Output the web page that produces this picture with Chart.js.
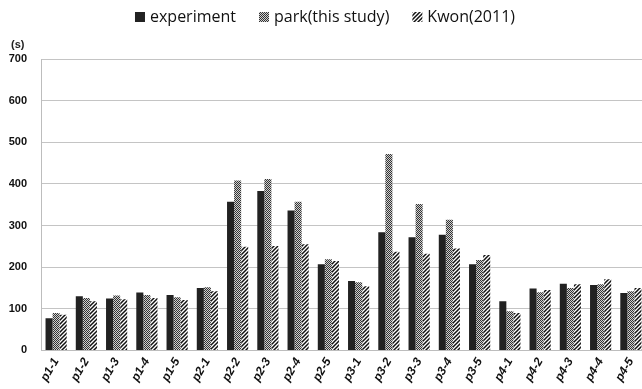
<!DOCTYPE html>
<html>
<head>
<meta charset="utf-8">
<script src="https://cdn.jsdelivr.net/npm/chart.js@4/dist/chart.umd.min.js"></script>
<style>
  html, body { margin: 0; padding: 0; background: #fff; overflow: hidden; }
  #wrap { width: 646px; height: 389px; position: relative; }
</style>
</head>
<body>
<div id="wrap"><canvas id="chart"></canvas></div>
<script>
// Travel time per section (seconds)
const categories = ['p1-1','p1-2','p1-3','p1-4','p1-5','p2-1','p2-2','p2-3','p2-4','p2-5',
                    'p3-1','p3-2','p3-3','p3-4','p3-5','p4-1','p4-2','p4-3','p4-4','p4-5'];
const experiment = [77,130,125,139,133,150,357,383,336,207,167,284,272,278,207,118,149,160,157,138];
const park       = [90,126,132,133,128,152,408,412,357,219,164,472,352,314,217,94,140,150,159,142];
const kwon       = [86,118,123,126,121,142,249,251,255,215,154,237,232,245,229,90,145,159,171,150];
const yTicks     = [0,100,200,300,400,500,600,700];
const seriesNames = ['experiment', 'park(this study)', 'Kwon(2011)'];

// Fine checkerboard fill
function checkerPattern() {
  const c = document.createElement('canvas');
  c.width = 2; c.height = 2;
  const g = c.getContext('2d');
  g.fillStyle = '#d0d0d0'; g.fillRect(0, 0, 2, 2);
  g.fillStyle = '#333333'; g.fillRect(0, 0, 1, 1); g.fillRect(1, 1, 1, 1);
  return g.createPattern(c, 'repeat');
}
// Diagonal hatch fill
function hatchPattern() {
  const c = document.createElement('canvas');
  c.width = 4; c.height = 4;
  const g = c.getContext('2d');
  g.fillStyle = '#ffffff'; g.fillRect(0, 0, 4, 4);
  g.strokeStyle = '#111111'; g.lineWidth = 1.5;
  g.beginPath();
  g.moveTo(-1, 5); g.lineTo(5, -1);
  g.moveTo(-1, 1); g.lineTo(1, -1);
  g.moveTo(3, 5); g.lineTo(5, 3);
  g.stroke();
  return g.createPattern(c, 'repeat');
}

// Legend row across the top, centred on the page
const topLegend = {
  id: 'topLegend',
  afterDraw(chart) {
    const ctx = chart.ctx;
    const box = 10, gapText = 5, gapItem = 23, yMid = 17, centre = 325;
    ctx.save();
    ctx.font = '16px "Open Sans", sans-serif';
    ctx.textBaseline = 'middle';
    ctx.textAlign = 'left';
    const widths = chart.data.datasets.map(d => box + gapText + ctx.measureText(d.label).width);
    const total = widths.reduce((a, b) => a + b, 0) + gapItem * (widths.length - 1);
    let x = centre - total / 2;
    chart.data.datasets.forEach((d, i) => {
      ctx.fillStyle = d.backgroundColor;
      ctx.fillRect(x, yMid - box / 2, box, box);
      ctx.fillStyle = '#111';
      ctx.fillText(d.label, x + box + gapText, yMid);
      x += widths[i] + gapItem;
    });
    ctx.restore();
  }
};

// Unit label above the value axis
const unitLabel = {
  id: 'unitLabel',
  afterDraw(chart) {
    const ctx = chart.ctx;
    const y = chart.scales.y;
    ctx.save();
    ctx.font = 'bold 11px "Liberation Sans", Arial, sans-serif';
    ctx.fillStyle = '#222';
    ctx.textAlign = 'left';
    ctx.textBaseline = 'middle';
    ctx.fillText('(s)', 11, y.getPixelForValue(700) - 14);
    ctx.restore();
  }
};

new Chart(document.getElementById('chart'), {
  type: 'bar',
  data: {
    labels: categories,
    datasets: [
      { label: seriesNames[0], data: experiment, backgroundColor: '#222222', borderWidth: 0 },
      { label: seriesNames[1], data: park, backgroundColor: checkerPattern(), borderWidth: 0 },
      { label: seriesNames[2], data: kwon, backgroundColor: hatchPattern(), borderWidth: 0 }
    ]
  },
  options: {
    responsive: true,
    maintainAspectRatio: false,
    animation: false,
    layout: { padding: { left: 9, right: 0, top: 59, bottom: 0 } },
    datasets: { bar: { categoryPercentage: 0.7, barPercentage: 1.0 } },
    plugins: {
      legend: { display: false },
      tooltip: { enabled: false }
    },
    scales: {
      x: {
        grid: { display: false, drawTicks: false },
        border: { color: '#bdbdbd', width: 1 },
        afterFit(scale) { scale.paddingLeft = 0; scale.paddingRight = 0; },
        ticks: {
          minRotation: 60, maxRotation: 60, padding: 5,
          color: '#111',
          font: { family: '"Liberation Sans", Arial, sans-serif', size: 12, weight: 'bold', style: 'italic' }
        }
      },
      y: {
        min: 0, max: 700,
        afterBuildTicks(axis) { axis.ticks = yTicks.map(v => ({ value: v })); },
        afterFit(scale) { scale.width = 32; },
        grid: { color: '#c4c4c4', lineWidth: 1, drawTicks: false },
        border: { color: '#bdbdbd', width: 1 },
        ticks: {
          padding: 14,
          color: '#111',
          font: { family: '"Liberation Sans", Arial, sans-serif', size: 11, weight: 'bold' }
        }
      }
    }
  },
  plugins: [topLegend, unitLabel]
});
</script>
</body>
</html>
